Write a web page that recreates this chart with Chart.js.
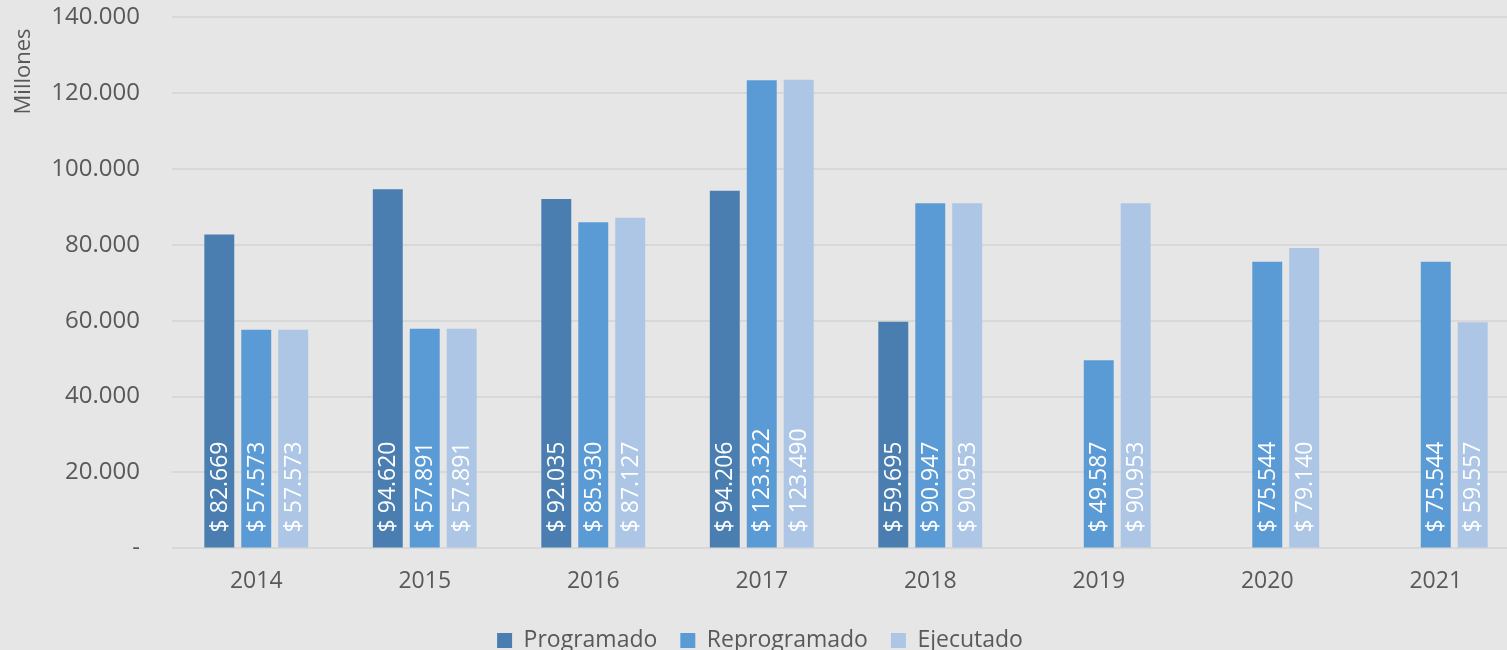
<!DOCTYPE html>
<html><head><meta charset="utf-8">
<script src="https://cdn.jsdelivr.net/npm/chart.js@4/dist/chart.umd.min.js"></script>
<style>
html,body{margin:0;padding:0;background:#e6e6e6;overflow:hidden;width:1507px;height:650px;}
#wrap{position:absolute;left:0;top:0;width:1526px;height:650px;}
</style></head>
<body>
<div id="wrap"><canvas id="c" width="1526" height="650"></canvas></div>
<script>
const categories = ['2014','2015','2016','2017','2018','2019','2020','2021'];
const programado = [82669, 94620, 92035, 94206, 59695, null, null, null];
const reprogramado = [57573, 57891, 85930, 123322, 90947, 49587, 75544, 75544];
const ejecutado = [57573, 57891, 87127, 123490, 90953, 90953, 79140, 59557];
const seriesNames = ['Programado','Reprogramado','Ejecutado'];
const yTicks = [0,20000,40000,60000,80000,100000,120000,140000];

const FONT = '"Open Sans", "Liberation Sans", sans-serif';
const fmt = v => v === 0 ? '-' : Math.round(v).toString().replace(/\B(?=(\d{3})+(?!\d))/g, '.');

const labelPlugin = {
  id: 'vlabels',
  afterDatasetsDraw(chart) {
    const ctx = chart.ctx;
    ctx.save();
    ctx.font = '23px ' + FONT;
    ctx.fillStyle = '#ffffff';
    ctx.textAlign = 'left';
    ctx.textBaseline = 'middle';
    chart.data.datasets.forEach((ds, i) => {
      const meta = chart.getDatasetMeta(i);
      meta.data.forEach((bar, j) => {
        const v = ds.data[j];
        if (v == null) return;
        ctx.save();
        ctx.translate(bar.x, bar.base - 15);
        ctx.rotate(-Math.PI / 2);
        ctx.fillText('$ ' + fmt(v), 0, 1);
        ctx.restore();
      });
    });
    ctx.restore();
  }
};

new Chart(document.getElementById('c'), {
  type: 'bar',
  data: {
    labels: categories,
    datasets: [
      {label: seriesNames[0], data: programado, backgroundColor: '#4A7EB0'},
      {label: seriesNames[1], data: reprogramado, backgroundColor: '#5B9BD5'},
      {label: seriesNames[2], data: ejecutado, backgroundColor: '#ADC6E6'}
    ]
  },
  options: {
    responsive: false,
    animation: false,
    layout: {padding: {top: 17, right: 6, bottom: -12, left: 0}},
    datasets: {bar: {categoryPercentage: 0.658, barPercentage: 0.81}},
    plugins: {
      legend: {
        position: 'bottom',
        labels: {font: {size: 23, family: FONT}, color: '#595959', boxWidth: 15, boxHeight: 15, padding: 23}
      },
      tooltip: {enabled: false}
    },
    scales: {
      x: {
        grid: {display: false},
        border: {display: false},
        ticks: {font: {size: 23, family: FONT}, color: '#595959', padding: 11}
      },
      y: {
        min: 0, max: 140000,
        afterBuildTicks: s => { s.ticks = yTicks.map(v => ({value: v})); },
        afterFit: s => { s.width = 172; s.paddingTop = 0; s.paddingBottom = 0; },
        grid: {color: '#d8d8d8', lineWidth: 2, drawTicks: false},
        border: {display: false},
        ticks: {font: {size: 24, family: FONT}, color: '#595959', padding: 32, callback: v => fmt(v)},
        title: {display: true, text: 'Millones  ', align: 'end', font: {size: 22, family: FONT}, color: '#595959', padding: {top: 11, bottom: 0}}
      }
    }
  },
  plugins: [labelPlugin]
});
</script>
</body></html>
